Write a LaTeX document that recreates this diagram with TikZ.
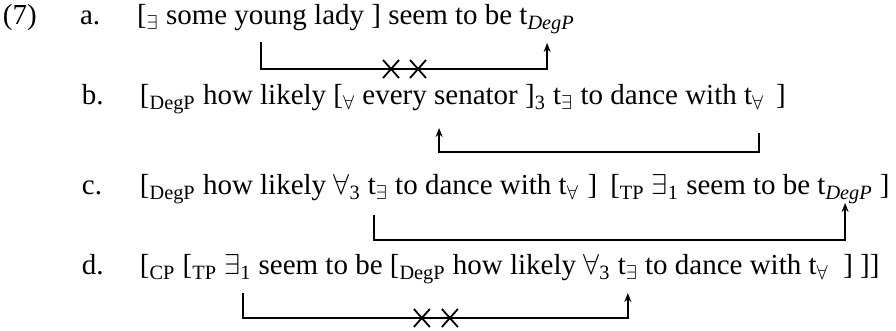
\documentclass[tikz,border=0pt]{standalone}
\usepackage{fontspec}
\setmainfont{Liberation Serif}
\usetikzlibrary{positioning, arrows.meta, shapes.misc}

\newcommand{\lsub}[1]{\textsubscript{#1}}

\begin{document}
\begin{tikzpicture}[
        x=0.5pt, y=0.5pt,
        >={Stealth[length=4.5pt,width=3.5pt]},
        node distance=3.6pt,
        every node/.style={inner sep=0pt, outer sep=0pt, font=\fontsize{14.5}{17}\selectfont},
        mv/.style={->, line width=0.9pt},
        xmark/.style={cross out, draw, line width=0.9pt, minimum width=8pt, minimum height=9pt}
    ]
    \useasboundingbox (0,0) rectangle (896,-331);

    % (a)
    \node[anchor=base west] (ex7) at (3,-25) {(7)};
    \node[anchor=base west] (la) at (80,-25) {a.};
    \node[anchor=base west] (a-ex) at (137,-25) {[\lsub{$\exists$} some young lady ]};
    \node[base right=of a-ex] (a-seem) {seem to be};
    \node[base right=of a-seem] (a-tdeg) {t\lsub{\itshape DegP}};
    \draw[mv] ([xshift=1pt,yshift=-8.5pt]a-ex.base) -- ++(0,-13.5pt) coordinate (a-bend)
        -| ([yshift=-9pt]a-tdeg.base);
    \node[xmark] (a-x1) at ([xshift=65pt]a-bend) {};
    \node[xmark] (a-x2) at ([xshift=78.5pt]a-bend) {};

    % (b)
    \node[anchor=base west] (lb) at (82,-105) {b.};
    \node[anchor=base west] (b-deg) at (140,-105) {[\lsub{DegP} how likely};
    \node[base right=of b-deg] (b-every) {[\lsub{$\forall$} every senator ]};
    \node[base right=0pt of b-every] (b-rest) {\lsub{3} t\lsub{$\exists$} to dance with};
    \node[base right=of b-rest] (b-tall) {t\lsub{$\forall$}};
    \node[base right=6pt of b-tall] (b-close) {]};
    \draw[mv] ([xshift=2.5pt,yshift=-14pt]b-tall.base) -- ++(0,-9.5pt)
        -| ([xshift=2.5pt,yshift=-11.5pt]b-every.base);

    % (c)
    \node[anchor=base west] (lc) at (82,-195) {c.};
    \node[anchor=base west] (c-deg) at (140,-195) {[\lsub{DegP} how likely $\forall$\lsub{3}};
    \node[base right=of c-deg] (c-tex) {t\lsub{$\exists$}};
    \node[base right=of c-tex] (c-mid) {to dance with t\lsub{$\forall$}\hspace{0.3em}]\hspace{0.45em}[\lsub{TP} $\exists$\lsub{1} seem to be};
    \node[base right=of c-mid] (c-tdeg) {t\lsub{\itshape DegP}};
    \node[base right=of c-tdeg] (c-close) {]};
    \draw[mv] ([xshift=-2pt,yshift=-10pt]c-tex.base) -- ++(0,-12.5pt) -| ([yshift=-4pt]c-tdeg.base);

    % (d)
    \node[anchor=base west] (ld) at (82,-275) {d.};
    \node[anchor=base west] (d-cp) at (140,-275) {[\lsub{CP} [\lsub{TP}};
    \node[base right=of d-cp] (d-ex) {$\exists$\lsub{1}};
    \node[base right=of d-ex] (d-seem) {seem to be [\lsub{DegP} how likely $\forall$\lsub{3}};
    \node[base right=of d-seem] (d-tex) {t\lsub{$\exists$}};
    \node[base right=of d-tex] (d-rest) {to dance with t\lsub{$\forall$}\ \ ] ]]};
    \draw[mv] ([xshift=2.5pt,yshift=-9pt]d-ex.base) -- ++(0,-12.5pt) coordinate (d-bend)
        -| ([yshift=-9pt]d-tex.base);
    \node[xmark] (d-x1) at ([xshift=89.5pt]d-bend) {};
    \node[xmark] (d-x2) at ([xshift=103.5pt]d-bend) {};
\end{tikzpicture}
\end{document}
